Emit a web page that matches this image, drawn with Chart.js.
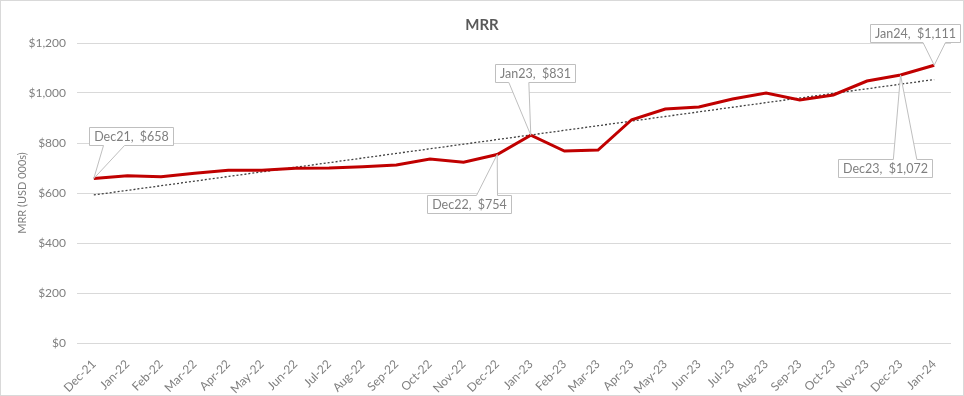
<!DOCTYPE html>
<html>
<head>
<meta charset="utf-8">
<script src="https://cdn.jsdelivr.net/npm/chart.js@4.4.1/dist/chart.umd.min.js"></script>
<style>
  html, body { margin: 0; padding: 0; background: #fff; }
  #wrap { width: 964px; height: 396px; position: relative; }
</style>
</head>
<body>
<div id="wrap"><canvas id="chart-mrr"></canvas></div>
<script>
'use strict';

// data
const MONTHS = ['Dec-21', 'Jan-22', 'Feb-22', 'Mar-22', 'Apr-22', 'May-22', 'Jun-22', 'Jul-22', 'Aug-22',
  'Sep-22', 'Oct-22', 'Nov-22', 'Dec-22', 'Jan-23', 'Feb-23', 'Mar-23', 'Apr-23', 'May-23', 'Jun-23',
  'Jul-23', 'Aug-23', 'Sep-23', 'Oct-23', 'Nov-23', 'Dec-23', 'Jan-24'];
const MRR = [658, 669, 665, 679, 691, 691, 699, 700, 705, 712, 736, 723, 754, 831, 768, 772, 893,
  936, 944, 976, 1000, 972, 992, 1048, 1072, 1111];
const Y_TICKS = [0, 200, 400, 600, 800, 1000, 1200];
const CALLOUT_MONTHS = ['Dec-21', 'Dec-22', 'Jan-23', 'Dec-23', 'Jan-24'];

// where each callout box sits, relative to its point (box centre offset)
const CALLOUT_OFFSET = {
  'Dec-21': [37.5, -43],
  'Dec-22': [-28, 49],
  'Jan-23': [4.5, -62],
  'Dec-23': [-16, 93],
  'Jan-24': [-19.5, -32]
};

const GREY = '#7f7f7f';
const GRID = '#d9d9d9';
const FONT = 'Lato, "Open Sans", sans-serif';

Chart.defaults.font.family = FONT;
Chart.defaults.color = GREY;

// least squares trendline, like Excel's linear trend
function linearTrend(values) {
  const n = values.length;
  let sx = 0, sy = 0, sxx = 0, sxy = 0;
  values.forEach((v, i) => { sx += i; sy += v; sxx += i * i; sxy += i * v; });
  const b = (n * sxy - sx * sy) / (n * sxx - sx * sx);
  const a = (sy - b * sx) / n;
  return values.map((v, i) => a + b * i);
}

const fmtMoney = v => '$' + Math.round(v).toLocaleString('en-US');

const frame = {
  id: 'frame',
  beforeDraw(chart) {
    const { ctx, width, height } = chart;
    ctx.save();
    ctx.fillStyle = '#fff';
    ctx.fillRect(0, 0, width, height);
    ctx.restore();
  },
  afterDraw(chart) {
    const { ctx, width, height, chartArea } = chart;
    ctx.save();
    ctx.strokeStyle = GRID;
    ctx.lineWidth = 1;
    ctx.strokeRect(0.5, 0.5, width - 1, height - 1);
    // title
    ctx.fillStyle = '#595959';
    ctx.font = 'bold 15px ' + FONT;
    ctx.textAlign = 'center';
    ctx.textBaseline = 'middle';
    ctx.fillText('MRR', width / 2, 25);
    // y axis title
    ctx.translate(22, (chartArea.top + chartArea.bottom) / 2);
    ctx.rotate(-Math.PI / 2);
    ctx.fillStyle = GREY;
    ctx.font = '11px ' + FONT;
    ctx.fillText('MRR (USD 000s)', 0, 0);
    ctx.restore();
  }
};

// Excel style wedge callouts
const callouts = {
  id: 'callouts',
  afterDatasetsDraw(chart) {
    const { ctx } = chart;
    const meta = chart.getDatasetMeta(0);
    ctx.save();
    ctx.font = '12.5px ' + FONT;
    CALLOUT_MONTHS.forEach(m => {
      const i = MONTHS.indexOf(m);
      const pt = meta.data[i];
      const text = m.replace('-', '') + ',  ' + fmtMoney(MRR[i]);
      const w = Math.round(ctx.measureText(text).width + 9);
      const h = 18;
      const [dx, dy] = CALLOUT_OFFSET[m];
      const cx = pt.x + dx, cy = pt.y + dy;
      const l = Math.round(cx - w / 2) + 0.5, t = Math.round(cy - h / 2) + 0.5;
      const r = l + w, b = t + h;
      const left = pt.x < cx;
      const b1 = l + (left ? w / 6 : w * 7 / 12);
      const b2 = l + (left ? w * 5 / 12 : w * 5 / 6);
      ctx.beginPath();
      ctx.moveTo(l, t);
      if (pt.y < t) {
        ctx.lineTo(b1, t); ctx.lineTo(pt.x, pt.y); ctx.lineTo(b2, t);
      }
      ctx.lineTo(r, t);
      ctx.lineTo(r, b);
      if (pt.y > b) {
        ctx.lineTo(b2, b); ctx.lineTo(pt.x, pt.y); ctx.lineTo(b1, b);
      }
      ctx.lineTo(l, b);
      ctx.closePath();
      ctx.fillStyle = '#fff';
      ctx.fill();
      ctx.strokeStyle = '#bfbfbf';
      ctx.lineWidth = 1;
      ctx.stroke();
      ctx.fillStyle = GREY;
      ctx.textAlign = 'center';
      ctx.textBaseline = 'middle';
      ctx.fillText(text, (l + r) / 2, (t + b) / 2 + 0.5);
    });
    ctx.restore();
  }
};

new Chart(document.getElementById('chart-mrr'), {
  type: 'line',
  data: {
    labels: MONTHS,
    datasets: [
      {
        label: 'MRR',
        data: MRR,
        borderColor: '#c00000',
        borderWidth: 3,
        pointRadius: 0,
        tension: 0,
        order: 0
      },
      {
        label: 'Linear (MRR)',
        data: linearTrend(MRR),
        borderColor: '#404040',
        borderWidth: 1.3,
        borderDash: [2, 2],
        pointRadius: 0,
        order: 1
      }
    ]
  },
  options: {
    responsive: true,
    maintainAspectRatio: false,
    animation: false,
    layout: { padding: { top: 43, right: 13, left: 0, bottom: 0 } },
    plugins: { legend: { display: false }, tooltip: { enabled: false }, title: { display: false } },
    scales: {
      x: {
        offset: true,
        grid: { display: false },
        border: { display: false },
        ticks: { autoSkip: false, maxRotation: 45, minRotation: 45, padding: 6, color: GREY, font: { size: 12 } },
        afterFit(s) { s.height = 53; }
      },
      y: {
        min: 0,
        max: 1200,
        afterBuildTicks(s) { s.ticks = Y_TICKS.map(v => ({ value: v })); },
        grid: { color: GRID, drawTicks: false },
        border: { display: false },
        ticks: { padding: 11, color: GREY, font: { size: 12 }, callback: v => fmtMoney(v) },
        afterFit(s) { s.width = 77; }
      }
    }
  },
  plugins: [frame, callouts]
});
</script>
</body>
</html>
